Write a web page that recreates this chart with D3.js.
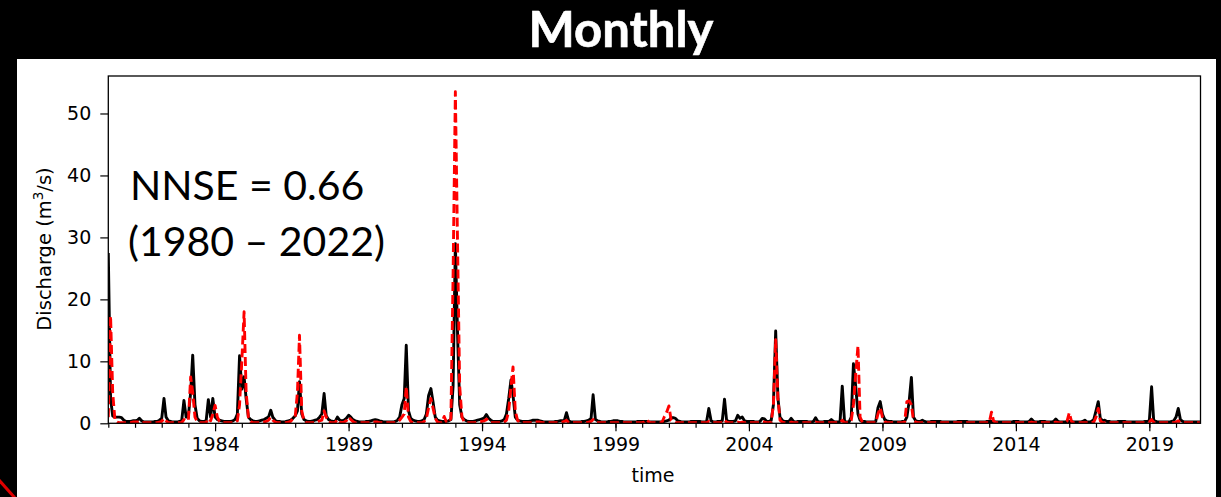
<!DOCTYPE html>
<html>
<head>
<meta charset="utf-8">
<script src="https://cdn.jsdelivr.net/npm/d3@7"></script>
<style>
  html, body { margin: 0; padding: 0; background: #000; }
  svg { display: block; }
</style>
</head>
<body>
<svg id="chart" width="1221" height="497"></svg>
<script>
// ---------------- DATA ----------------
const startYear = 1980;
const endYear = 2020;
// Observed monthly discharge (m3/s), one row per year (Jan..Dec)
const observed = [
  27.5, 4.0, 1.2, 1.0, 1.0, 1.0, 0.9, 0.5, 0.3, 0.3, 0.3, 0.4,   // 1980
  0.4, 0.5, 0.8, 0.4, 0.2, 0.2, 0.2, 0.2, 0.2, 0.3, 0.3, 0.5,    // 1981
  0.8, 4.0, 1.0, 0.4, 0.3, 0.2, 0.2, 0.2, 0.3, 0.4, 3.7, 1.0,    // 1982
  1.2, 5.0, 11.0, 3.0, 0.8, 0.4, 0.3, 0.3, 0.4, 3.8, 1.0, 4.0,   // 1983
  1.0, 0.6, 0.5, 0.4, 0.3, 0.3, 0.3, 0.3, 0.4, 0.6, 1.5, 10.9,   // 1984
  5.5, 7.5, 4.0, 1.0, 0.6, 0.4, 0.3, 0.3, 0.4, 0.5, 0.6, 0.8,    // 1985
  1.0, 2.1, 1.0, 0.5, 0.3, 0.3, 0.2, 0.2, 0.3, 0.4, 0.5, 0.8,    // 1986
  1.2, 2.0, 6.7, 1.5, 0.6, 0.4, 0.3, 0.3, 0.4, 0.5, 0.6, 1.0,    // 1987
  1.5, 4.8, 1.2, 0.6, 0.4, 0.3, 0.3, 1.0, 0.5, 0.4, 0.5, 0.8,    // 1988
  1.3, 1.0, 0.6, 0.4, 0.3, 0.2, 0.2, 0.2, 0.3, 0.3, 0.4, 0.5,    // 1989
  0.6, 0.5, 0.4, 0.3, 0.2, 0.2, 0.2, 0.2, 0.2, 0.3, 0.5, 1.0,    // 1990
  3.0, 4.0, 12.6, 2.0, 0.8, 0.5, 0.4, 0.3, 0.3, 0.4, 0.6, 1.5,   // 1991
  4.5, 5.6, 3.5, 1.0, 0.5, 0.4, 0.3, 0.3, 0.3, 0.4, 0.6, 6.0,    // 1992
  29.0, 14.0, 3.0, 1.0, 0.6, 0.4, 0.3, 0.3, 0.3, 0.4, 0.5, 0.6,  // 1993
  0.7, 0.9, 1.4, 0.8, 0.5, 0.3, 0.3, 0.3, 0.3, 0.4, 0.6, 1.5,    // 1994
  4.0, 7.0, 4.5, 1.0, 0.5, 0.4, 0.3, 0.3, 0.3, 0.3, 0.4, 0.5,    // 1995
  0.5, 0.5, 0.4, 0.3, 0.2, 0.2, 0.2, 0.2, 0.2, 0.3, 0.3, 0.4,    // 1996
  0.4, 0.5, 1.7, 0.4, 0.2, 0.2, 0.2, 0.2, 0.2, 0.3, 0.3, 0.4,    // 1997
  0.5, 0.8, 4.6, 0.6, 0.4, 0.3, 0.2, 0.2, 0.2, 0.3, 0.3, 0.4,    // 1998
  0.4, 0.4, 0.3, 0.3, 0.2, 0.2, 0.2, 0.2, 0.2, 0.2, 0.3, 0.3,    // 1999
  0.3, 0.3, 0.3, 0.2, 0.2, 0.2, 0.2, 0.2, 0.2, 0.2, 0.3, 0.4,    // 2000
  0.5, 0.9, 0.9, 0.8, 0.4, 0.3, 0.2, 0.2, 0.2, 0.2, 0.3, 0.3,    // 2001
  0.3, 0.3, 0.3, 0.2, 0.2, 0.3, 2.4, 0.4, 0.2, 0.2, 0.3, 0.3,    // 2002
  0.4, 3.9, 0.5, 0.3, 0.3, 0.3, 0.4, 1.3, 0.8, 1.0, 0.4, 0.3,    // 2003
  0.3, 0.3, 0.3, 0.2, 0.2, 0.3, 0.8, 0.7, 0.3, 0.3, 0.5, 3.0,    // 2004
  14.9, 4.0, 1.0, 0.5, 0.3, 0.3, 0.3, 0.8, 0.3, 0.2, 0.3, 0.3,   // 2005
  0.3, 0.3, 0.3, 0.2, 0.2, 0.3, 0.9, 0.3, 0.2, 0.2, 0.3, 0.3,    // 2006
  0.3, 0.6, 0.3, 0.2, 0.2, 0.3, 6.0, 0.3, 0.2, 0.2, 1.0, 9.6,    // 2007
  6.0, 1.5, 0.5, 0.3, 0.3, 0.2, 0.2, 0.2, 0.2, 0.3, 2.5, 3.5,    // 2008
  1.5, 0.6, 0.4, 0.3, 0.3, 0.2, 0.2, 0.2, 0.2, 0.3, 0.3, 1.0,    // 2009
  3.5, 7.4, 1.0, 0.4, 0.3, 0.3, 0.5, 0.3, 0.2, 0.2, 0.3, 0.3,    // 2010
  0.3, 0.3, 0.3, 0.2, 0.2, 0.2, 0.2, 0.2, 0.2, 0.2, 0.3, 0.3,    // 2011
  0.3, 0.3, 0.3, 0.2, 0.2, 0.2, 0.2, 0.2, 0.2, 0.2, 0.2, 0.3,    // 2012
  0.3, 0.3, 0.3, 0.2, 0.2, 0.2, 0.2, 0.2, 0.2, 0.2, 0.2, 0.3,    // 2013
  0.3, 0.3, 0.2, 0.2, 0.2, 0.2, 0.3, 0.7, 0.3, 0.2, 0.2, 0.3,    // 2014
  0.3, 0.3, 0.2, 0.2, 0.2, 0.3, 0.7, 0.3, 0.2, 0.2, 0.2, 0.3,    // 2015
  0.3, 0.3, 0.2, 0.2, 0.2, 0.2, 0.3, 0.5, 0.2, 0.2, 0.3, 0.6,    // 2016
  2.0, 3.5, 0.8, 0.4, 0.5, 0.3, 0.3, 0.2, 0.2, 0.2, 0.3, 0.3,    // 2017
  0.3, 0.3, 0.2, 0.2, 0.2, 0.2, 0.2, 0.2, 0.2, 0.2, 0.3, 0.3,    // 2018
  0.4, 5.9, 0.5, 0.3, 0.2, 0.2, 0.2, 0.2, 0.2, 0.2, 0.3, 0.4,    // 2019
  1.0, 2.4, 0.6, 0.3, 0.2, 0.2, 0.2, 0.2, 0.2, 0.2, 0.2, 0.2     // 2020
];
// Simulated monthly discharge (m3/s)
const simulated = [
  1.0, 17.3, 5.0, 0.5, 0.2, 0.1, 0.1, 0.1, 0.1, 0.1, 0.1, 0.2,   // 1980
  0.2, 0.2, 0.3, 0.1, 0.1, 0.1, 0.1, 0.1, 0.1, 0.1, 0.1, 0.2,    // 1981
  0.3, 0.8, 0.4, 0.1, 0.1, 0.1, 0.1, 0.1, 0.1, 0.1, 0.6, 0.4,    // 1982
  0.5, 7.5, 5.0, 1.0, 0.3, 0.1, 0.1, 0.1, 0.1, 0.8, 0.4, 1.5,    // 1983
  2.9, 1.0, 0.3, 0.1, 0.1, 0.1, 0.1, 0.1, 0.1, 0.2, 0.4, 3.0,    // 1984
  10.0, 18.0, 5.0, 1.0, 0.3, 0.1, 0.1, 0.1, 0.1, 0.2, 0.2, 0.3,  // 1985
  0.5, 1.0, 0.5, 0.2, 0.1, 0.1, 0.1, 0.1, 0.1, 0.2, 0.3, 0.8,    // 1986
  1.0, 5.0, 14.2, 2.0, 0.4, 0.1, 0.1, 0.1, 0.1, 0.2, 0.2, 0.4,   // 1987
  0.5, 2.0, 1.0, 0.3, 0.1, 0.1, 0.1, 0.6, 0.2, 0.1, 0.2, 0.4,    // 1988
  1.0, 0.6, 0.3, 0.1, 0.1, 0.1, 0.1, 0.1, 0.1, 0.1, 0.1, 0.2,    // 1989
  0.2, 0.2, 0.1, 0.1, 0.1, 0.1, 0.1, 0.1, 0.1, 0.1, 0.2, 0.5,    // 1990
  1.0, 1.5, 5.9, 1.0, 0.3, 0.1, 0.1, 0.1, 0.1, 0.1, 0.3, 0.8,    // 1991
  2.5, 4.0, 2.5, 0.8, 0.2, 0.1, 0.1, 1.1, 0.2, 0.1, 0.8, 24.0,   // 1992
  53.5, 28.0, 6.0, 1.0, 0.3, 0.1, 0.1, 0.1, 0.1, 0.1, 0.2, 0.3,  // 1993
  0.3, 0.4, 0.7, 0.3, 0.1, 0.1, 0.1, 0.1, 0.1, 0.1, 0.2, 0.5,    // 1994
  2.0, 6.0, 9.1, 2.0, 0.5, 0.1, 0.1, 0.1, 0.1, 0.1, 0.1, 0.2,    // 1995
  0.2, 0.2, 0.2, 0.1, 0.1, 0.1, 0.1, 0.1, 0.1, 0.1, 0.1, 0.1,    // 1996
  0.2, 0.3, 0.5, 0.1, 0.1, 0.1, 0.1, 0.1, 0.1, 0.1, 0.1, 0.1,    // 1997
  0.2, 0.3, 0.6, 0.2, 0.1, 0.1, 0.1, 0.1, 0.1, 0.1, 0.1, 0.1,    // 1998
  0.1, 0.1, 0.1, 0.1, 0.1, 0.1, 0.1, 0.1, 0.1, 0.1, 0.1, 0.1,    // 1999
  0.1, 0.2, 0.6, 0.2, 0.1, 0.1, 0.1, 0.1, 0.1, 0.2, 1.1, 1.8,    // 2000
  2.8, 0.5, 0.3, 0.1, 0.1, 0.1, 0.1, 0.1, 0.1, 0.1, 0.1, 0.1,    // 2001
  0.1, 0.1, 0.1, 0.1, 0.1, 0.1, 0.3, 0.1, 0.1, 0.1, 0.1, 0.1,    // 2002
  0.1, 0.5, 0.2, 0.1, 0.1, 0.1, 0.1, 0.2, 0.1, 0.2, 0.1, 0.1,    // 2003
  0.1, 0.1, 0.1, 0.1, 0.1, 0.1, 0.2, 0.2, 0.1, 0.1, 0.2, 3.0,    // 2004
  13.5, 4.0, 0.5, 0.2, 0.1, 0.1, 0.1, 0.2, 0.1, 0.1, 0.1, 0.1,   // 2005
  0.1, 0.1, 0.1, 0.1, 0.1, 0.1, 0.2, 0.1, 0.1, 0.1, 0.1, 0.1,    // 2006
  0.1, 0.1, 0.1, 0.1, 0.1, 0.1, 0.5, 0.1, 0.1, 0.1, 0.5, 3.0,    // 2007
  8.0, 12.5, 1.0, 0.2, 0.1, 0.1, 0.1, 0.1, 0.1, 0.1, 1.5, 2.5,   // 2008
  1.0, 0.3, 0.1, 0.1, 0.1, 0.1, 0.1, 0.1, 0.1, 0.1, 0.2, 3.5,    // 2009
  3.6, 3.0, 0.5, 0.2, 0.1, 0.1, 0.1, 0.1, 0.1, 0.1, 0.1, 0.1,    // 2010
  0.1, 0.1, 0.1, 0.1, 0.1, 0.1, 0.1, 0.1, 0.1, 0.1, 0.1, 0.1,    // 2011
  0.1, 0.1, 0.1, 0.1, 0.1, 0.1, 0.1, 0.1, 0.1, 0.1, 0.1, 0.1,    // 2012
  0.1, 1.8, 0.4, 0.1, 0.1, 0.1, 0.1, 0.1, 0.1, 0.1, 0.1, 0.1,    // 2013
  0.1, 0.1, 0.1, 0.1, 0.1, 0.1, 0.1, 0.2, 0.1, 0.1, 0.1, 0.1,    // 2014
  0.1, 0.1, 0.1, 0.1, 0.1, 0.1, 0.2, 0.1, 0.1, 0.1, 0.1, 0.3,    // 2015
  1.7, 0.3, 0.1, 0.1, 0.1, 0.1, 0.1, 0.1, 0.1, 0.1, 0.1, 0.2,    // 2016
  1.0, 2.4, 0.4, 0.1, 0.1, 0.1, 0.1, 0.1, 0.1, 0.1, 0.1, 0.1,    // 2017
  0.1, 0.1, 0.1, 0.1, 0.1, 0.1, 0.1, 0.1, 0.1, 0.1, 0.1, 0.1,    // 2018
  0.2, 0.6, 0.2, 0.1, 0.1, 0.1, 0.1, 0.1, 0.1, 0.1, 0.1, 0.1,    // 2019
  0.2, 0.4, 0.1, 0.1, 0.1, 0.1, 0.1, 0.1, 0.1, 0.1, 0.1, 0.1     // 2020
];
const yTicks = [0, 10, 20, 30, 40, 50];
const xTickYears = [1984, 1989, 1994, 1999, 2004, 2009, 2014, 2019];
const titleText = "Monthly";
const annotationLines = ["NNSE = 0.66", "(1980 \u2013 2022)"];
const xLabel = "time";

// ---------------- LAYOUT ----------------
const svg = d3.select("#chart");
const W = 1221, H = 497;
const plot = { left: 108.3, right: 1200.5, top: 76, bottom: 423.3 };

// background panels
svg.append("rect").attr("x", 0).attr("y", 0).attr("width", W).attr("height", H).attr("fill", "#000");
svg.append("rect").attr("x", 17).attr("y", 59).attr("width", 1199).attr("height", H - 59).attr("fill", "#fff");
svg.append("line").attr("x1", -1).attr("y1", 480).attr("x2", 15).attr("y2", 498)
  .attr("stroke", "#e00000").attr("stroke-width", 3);

// title
svg.append("text").attr("x", 621).attr("y", 47).attr("text-anchor", "middle")
  .attr("fill", "#fff").attr("font-family", "Lato, 'Open Sans', sans-serif")
  .attr("font-weight", "bold").attr("font-size", 49)
  .attr("stroke", "#fff").attr("stroke-width", 0.6).text(titleText);

// ---------------- SCALES ----------------
const monthDates = d3.range(observed.length).map(i => new Date(startYear, i, 1));
const x = d3.scaleTime()
  .domain([new Date(startYear, 0, 1), monthDates[monthDates.length - 1]])
  .range([plot.left, plot.right]);
const y = d3.scaleLinear().domain([0, 56.05]).range([plot.bottom, plot.top]);

const fontTick = "'DejaVu Sans', sans-serif";

// ---------------- AXES ----------------
const minorYears = d3.range(startYear, endYear + 1).map(yr => new Date(yr, 0, 1));
const gMinor = svg.append("g").attr("transform", `translate(0,${plot.bottom})`)
  .call(d3.axisBottom(x).tickValues(minorYears).tickSize(4.5).tickFormat(""));
gMinor.select(".domain").remove();
gMinor.selectAll("line").attr("stroke", "#000").attr("stroke-width", 1.2);

const gx = svg.append("g").attr("transform", `translate(0,${plot.bottom})`)
  .call(d3.axisBottom(x).tickValues(xTickYears.map(yr => new Date(yr, 0, 1)))
    .tickSize(8).tickPadding(6.5).tickFormat(d3.timeFormat("%Y")));
gx.select(".domain").remove();
gx.selectAll("line").attr("stroke", "#000").attr("stroke-width", 1.2);
gx.selectAll("text").attr("font-family", fontTick).attr("font-size", 19).attr("fill", "#000");

const gy = svg.append("g").attr("transform", `translate(${plot.left},0)`)
  .call(d3.axisLeft(y).tickValues(yTicks).tickSize(8).tickPadding(9).tickFormat(d3.format("d")));
gy.select(".domain").remove();
gy.selectAll("line").attr("stroke", "#000").attr("stroke-width", 1.2);
gy.selectAll("text").attr("font-family", fontTick).attr("font-size", 19).attr("fill", "#000");

// axis titles
svg.append("text").attr("x", 653).attr("y", 482).attr("text-anchor", "middle")
  .attr("font-family", fontTick).attr("font-size", 19).attr("fill", "#000").text(xLabel);

const yl = svg.append("text").attr("transform", `translate(51,249) rotate(-90)`)
  .attr("text-anchor", "middle").attr("font-family", fontTick).attr("font-size", 19.5).attr("fill", "#000");
yl.append("tspan").text("Discharge (m");
yl.append("tspan").attr("font-size", 13.5).attr("dy", -8).text("3");
yl.append("tspan").attr("dy", 8).text("/s)");

// ---------------- LINES ----------------
const clip = svg.append("clipPath").attr("id", "plotclip").append("rect")
  .attr("x", plot.left).attr("y", plot.top).attr("width", plot.right - plot.left).attr("height", plot.bottom - plot.top);

const line = d3.line().x((d, i) => x(monthDates[i])).y(d => y(d));
const gLines = svg.append("g").attr("clip-path", "url(#plotclip)");
gLines.append("path").datum(observed).attr("d", line)
  .attr("fill", "none").attr("stroke", "#000").attr("stroke-width", 2.9)
  .attr("stroke-linejoin", "round");
gLines.append("path").datum(simulated).attr("d", line)
  .attr("fill", "none").attr("stroke", "#ff0000").attr("stroke-width", 2.9)
  .attr("stroke-dasharray", "9,4").attr("stroke-linejoin", "round");

// frame
svg.append("rect").attr("x", plot.left).attr("y", plot.top)
  .attr("width", plot.right - plot.left).attr("height", plot.bottom - plot.top)
  .attr("fill", "none").attr("stroke", "#000").attr("stroke-width", 1.3);

// annotation
const ann = svg.append("g").attr("font-family", "Lato, 'Open Sans', sans-serif")
  .attr("font-size", 41).attr("fill", "#000");
ann.append("text").attr("x", 130).attr("y", 200).text(annotationLines[0]);
ann.append("text").attr("x", 128).attr("y", 256).text(annotationLines[1]);
</script>
</body>
</html>
